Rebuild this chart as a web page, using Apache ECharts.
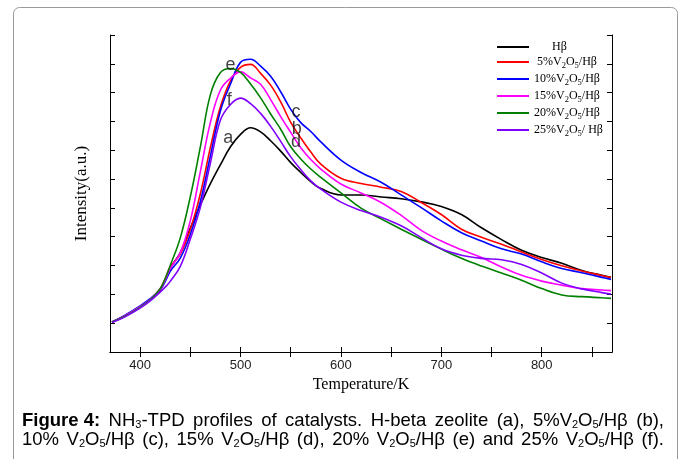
<!DOCTYPE html>
<html>
<head>
<meta charset="utf-8">
<script src="https://cdn.jsdelivr.net/npm/echarts@6/dist/echarts.min.js"></script>
<style>
  html, body { margin: 0; padding: 0; background: #fff; }
  #chart_tpd { width: 683px; height: 459px; }
</style>
</head>
<body>
<div id="chart_tpd"></div>
<script>
const temps = [372, 385, 400, 410, 420, 425, 430, 440, 450, 460, 470, 480, 490, 500, 510, 520, 530, 540, 550, 560, 570, 580, 600, 620, 640, 660, 680, 700, 720, 740, 760, 780, 800, 820, 840, 860, 869];

const hBeta = [1.04, 1.25, 1.56, 1.81, 2.15, 2.5, 2.9, 3.45, 4.3, 5.1, 5.84, 6.5, 7.12, 7.55, 7.78, 7.64, 7.33, 6.97, 6.57, 6.23, 5.91, 5.67, 5.45, 5.45, 5.38, 5.32, 5.21, 5.05, 4.77, 4.31, 3.90, 3.53, 3.28, 3.08, 2.83, 2.66, 2.59];
const v5 = [1.04, 1.26, 1.57, 1.83, 2.2, 2.55, 2.95, 3.40, 4.25, 5.49, 7.10, 8.51, 9.41, 9.88, 9.98, 9.67, 9.26, 8.68, 7.97, 7.43, 6.94, 6.52, 6.03, 5.85, 5.72, 5.57, 5.19, 4.77, 4.26, 3.98, 3.74, 3.47, 3.21, 2.99, 2.81, 2.65, 2.58];
const v10 = [1.04, 1.28, 1.6, 1.85, 2.17, 2.45, 2.8, 3.26, 4.08, 5.22, 6.81, 8.37, 9.3, 10.05, 10.16, 9.92, 9.57, 9.03, 8.42, 7.96, 7.65, 7.29, 6.66, 6.23, 5.89, 5.45, 5.01, 4.55, 4.14, 3.85, 3.58, 3.40, 3.13, 2.90, 2.75, 2.59, 2.52];
const v15 = [1.04, 1.26, 1.57, 1.82, 2.18, 2.5, 2.9, 3.44, 4.55, 6.26, 7.97, 9.09, 9.50, 9.72, 9.51, 9.29, 8.76, 8.17, 7.62, 7.09, 6.68, 6.35, 5.83, 5.52, 5.19, 4.74, 4.22, 3.85, 3.55, 3.28, 2.95, 2.66, 2.46, 2.32, 2.20, 2.15, 2.13];
const v20 = [1.04, 1.24, 1.55, 1.8, 2.2, 2.55, 3.0, 3.96, 5.39, 7.12, 8.93, 9.70, 9.84, 9.70, 9.30, 8.82, 8.26, 7.73, 7.12, 6.70, 6.35, 6.06, 5.52, 4.99, 4.62, 4.26, 3.91, 3.57, 3.25, 2.98, 2.74, 2.49, 2.20, 1.98, 1.92, 1.88, 1.86];
const v25 = [1.02, 1.22, 1.52, 1.77, 2.08, 2.25, 2.45, 2.97, 3.92, 5.02, 6.56, 8.05, 8.59, 8.81, 8.62, 8.28, 7.83, 7.31, 6.77, 6.33, 5.94, 5.65, 5.20, 4.91, 4.68, 4.38, 3.97, 3.58, 3.36, 3.25, 3.20, 3.04, 2.74, 2.39, 2.19, 2.06, 2.01];

const seriesNames = ['Hβ', '5%V2O5/Hβ', '10%V2O5/Hβ', '15%V2O5/Hβ', '20%V2O5/Hβ', '25%V2O5/ Hβ'];
const legendLabels = ['      Hβ', ' 5%V{s|2}O{s|5}/Hβ', '10%V{s|2}O{s|5}/Hβ', '15%V{s|2}O{s|5}/Hβ', '20%V{s|2}O{s|5}/Hβ', '25%V{s|2}O{s|5}/ Hβ'];
const seriesColors = ['#000000', '#ff0000', '#0000ff', '#ff00ff', '#008000', '#8000ff'];
const seriesValues = [hBeta, v5, v10, v15, v20, v25];

// letters next to the curves: [T, intensity, letter]
const curveTags = [
    [490.1, 9.97, 'e'],
    [488.7, 8.75, 'f'],
    [487.7, 7.42, 'a'],
    [555.3, 8.34, 'c'],
    [555.9, 7.74, 'b'],
    [555.3, 7.27, 'd']
];

const xTickValues = [400, 450, 500, 550, 600, 650, 700, 750, 800, 850];
const xLabelValues = [400, 500, 600, 700, 800];

// caption is justified in the source, so spaces are {w| } tokens widened to fit
const captionLine1 = '{b|Figure 4:}{w| }NH{s|3}-TPD{w| }profiles{w| }of{w| }catalysts.{w| }H-beta{w| }zeolite{w| }(a),{w| }5%V{s|2}O{s|5}/Hβ{w| }(b),';
const captionLine2 = '10%{w| }V{s|2}O{s|5}/Hβ{w| }(c),{w| }15%{w| }V{s|2}O{s|5}/Hβ{w| }(d),{w| }20%{w| }V{s|2}O{s|5}/Hβ{w| }(e){w| }and{w| }25%{w| }V{s|2}O{s|5}/Hβ{w| }(f).';

const serif = '"Liberation Serif", "DejaVu Serif", serif';
const sans = '"Liberation Sans", Arial, sans-serif';
const capSize = 18.5;
const capSub = 11;
const capWidth = 642;

// width of a caption line without its spaces, to spread the rest over them
function justifySpace(text) {
    const ctx = document.createElement('canvas').getContext('2d');
    let width = 0, gaps = 0;
    text.split(/(\{[a-z]\|[^}]*\})/).forEach(part => {
        if (!part) return;
        const m = part.match(/^\{([a-z])\|([^}]*)\}$/);
        if (!m) {
            ctx.font = capSize + 'px ' + sans;
            width += ctx.measureText(part).width;
        } else if (m[1] === 'w') {
            gaps++;
        } else if (m[1] === 's') {
            ctx.font = capSub + 'px ' + sans;
            width += ctx.measureText(m[2]).width;
        } else {
            ctx.font = 'bold ' + capSize + 'px ' + sans;
            width += ctx.measureText(m[2]).width;
        }
    });
    return (capWidth - width) / gaps;
}

function captionRich(spaceWidth) {
    return {
        b: { fontFamily: sans, fontSize: capSize, fontWeight: 'bold', fill: '#000' },
        s: { fontFamily: sans, fontSize: capSub, padding: [9, 0, 0, 0], fill: '#000' },
        w: { fontFamily: sans, fontSize: capSize, width: spaceWidth }
    };
}

function getOptionTpd() {
    const frameLine = { show: true, lineStyle: { color: '#000', width: 1 } };
    const xTick = { show: true, inside: true, length: 5, customValues: xTickValues, lineStyle: { color: '#000' } };
    const yTick = { show: true, inside: true, length: 5, lineStyle: { color: '#000' } };

    const lines = seriesNames.map((name, i) => ({
        name: name,
        type: 'line',
        smooth: 0.4,
        symbol: 'none',
        lineStyle: { color: seriesColors[i], width: 1.6 },
        itemStyle: { color: seriesColors[i] },
        emphasis: { disabled: true },
        data: temps.map((t, k) => [t, seriesValues[i][k]])
    }));

    lines.push({
        type: 'scatter',
        symbolSize: 2,
        itemStyle: { color: 'rgba(0,0,0,0)' },
        silent: true,
        z: 5,
        label: {
            show: true,
            position: 'inside',
            formatter: p => p.value[2],
            fontSize: 18,
            fontFamily: sans,
            color: '#111'
        },
        data: curveTags
    });

    return {
        backgroundColor: '#fff',
        animation: false,
        grid: { left: 110, right: 71, top: 35, bottom: 107 },
        legend: {
            data: seriesNames,
            orient: 'vertical',
            left: 492,
            top: 36,
            icon: 'rect',
            itemWidth: 32,
            itemHeight: 2,
            itemGap: 3,
            formatter: name => legendLabels[seriesNames.indexOf(name)],
            textStyle: {
                fontFamily: serif,
                fontSize: 12,
                color: '#000',
                rich: {
                    s: { fontFamily: serif, fontSize: 8.5, padding: [7, 0, 0, 0], color: '#000' }
                }
            }
        },
        xAxis: [
            {
                type: 'value', min: 370, max: 870, position: 'bottom',
                axisLine: frameLine, axisTick: xTick, splitLine: { show: false },
                axisLabel: { customValues: xLabelValues, fontFamily: sans, fontSize: 13, color: '#222', margin: 7 },
                name: 'Temperature/K', nameLocation: 'middle', nameGap: 24,
                nameTextStyle: { fontFamily: serif, fontSize: 16, color: '#000' }
            },
            {
                type: 'value', min: 370, max: 870, position: 'top',
                axisLine: frameLine, axisTick: xTick, splitLine: { show: false },
                axisLabel: { show: false }
            }
        ],
        yAxis: [
            {
                type: 'value', min: 0, max: 11, interval: 1, position: 'left',
                axisLine: frameLine, axisTick: yTick, splitLine: { show: false },
                axisLabel: { show: false },
                name: 'Intensity(a.u.)', nameLocation: 'middle', nameGap: 20,
                nameTextStyle: { fontFamily: serif, fontSize: 17, color: '#000' }
            },
            {
                type: 'value', min: 0, max: 11, interval: 1, position: 'right',
                axisLine: frameLine, axisTick: yTick, splitLine: { show: false },
                axisLabel: { show: false }
            }
        ],
        graphic: [
            {
                type: 'rect', left: 11, top: 5, silent: true,
                shape: { width: 664, height: 470, r: 6 },
                style: { fill: 'none', stroke: '#9a9a9a', lineWidth: 1 }
            },
            {
                type: 'text', left: 22, top: 411, silent: true,
                style: {
                    text: captionLine1, fill: '#000', fontFamily: sans, fontSize: capSize,
                    rich: captionRich(justifySpace(captionLine1))
                }
            },
            {
                type: 'text', left: 22, top: 430, silent: true,
                style: {
                    text: captionLine2, fill: '#000', fontFamily: sans, fontSize: capSize,
                    rich: captionRich(justifySpace(captionLine2))
                }
            }
        ],
        series: lines
    };
}

const chart = echarts.init(document.getElementById('chart_tpd'), null, { renderer: 'canvas' });
chart.setOption(getOptionTpd());
</script>
</body>
</html>
